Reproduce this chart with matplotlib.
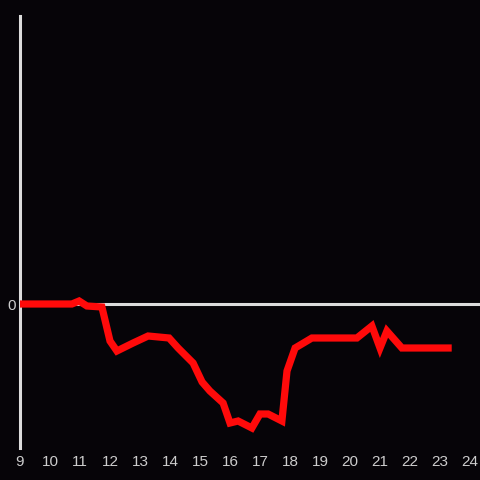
import matplotlib
matplotlib.use("Agg")
import matplotlib.pyplot as plt

# hours of the day and the value at each point (0 = baseline)
hours = [9.0, 10.73, 10.97, 11.23, 11.73, 12.0, 12.23, 12.77, 13.27, 13.97,
         14.27, 14.77, 15.07, 15.33, 15.77, 16.0, 16.27, 16.73, 17.0, 17.27,
         17.73, 17.9, 18.17, 18.73, 20.23, 20.73, 21.0, 21.23, 21.73, 23.27]
values = [0, 0, 3, -2, -3, -37, -47, -39, -32, -34,
          -44, -59, -78, -87, -99, -119, -117, -124, -110, -110,
          -117, -67, -44, -34, -34, -22, -44, -27, -44, -44]

xticks = list(range(9, 25))

bg = "#060408"
fg = "#dcdcdc"

fig = plt.figure(figsize=(4.8, 4.8), dpi=100, facecolor=bg)
ax = fig.add_axes([20 / 480, 32 / 480, 460 / 480, 432 / 480], facecolor=bg)

ax.axhline(0, color=fg, lw=2.2, zorder=1)
ax.plot(hours, values, color="#ff0a0a", lw=5.2, solid_joinstyle="miter", zorder=3)

ax.set_xlim(9, 9 + 460 / 30)
ax.set_ylim(-144, 288)
ax.set_xticks(xticks)
ax.set_xticklabels([str(t) for t in xticks])
ax.set_yticks([0])
ax.set_yticklabels(["0"])

for s in ["top", "right", "bottom"]:
    ax.spines[s].set_visible(False)
ax.spines["left"].set_color(fg)
ax.spines["left"].set_linewidth(2.2)

ax.tick_params(axis="both", length=0, colors="#cccccc", labelsize=11)
ax.tick_params(axis="x", pad=5)
ax.tick_params(axis="y", pad=3)
for lab in ax.get_xticklabels() + ax.get_yticklabels():
    lab.set_family("Liberation Sans")

fig.savefig("out.png", dpi=100, facecolor=bg)
